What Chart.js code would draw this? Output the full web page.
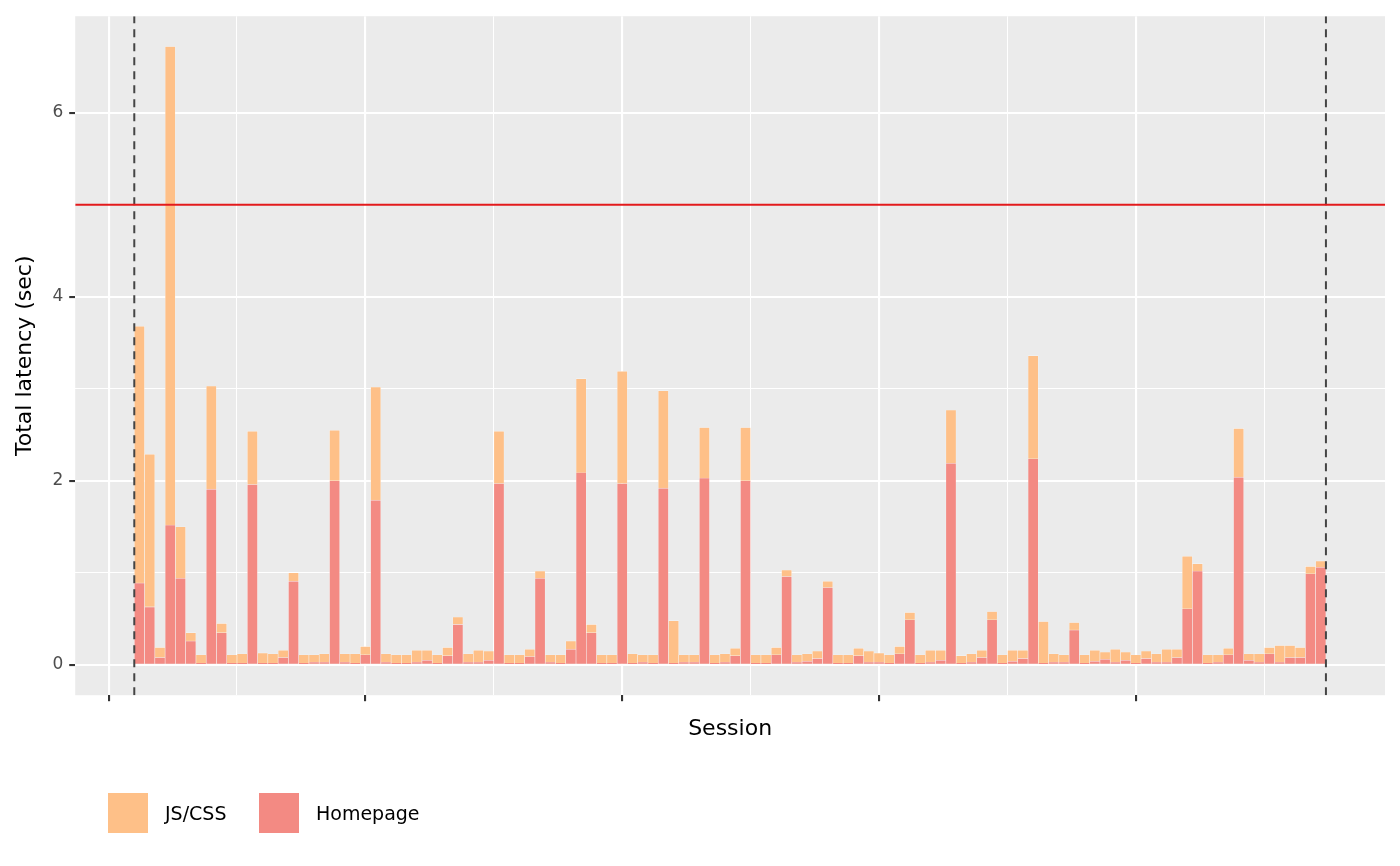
<!DOCTYPE html>
<html><head><meta charset="utf-8">
<script src="https://cdn.jsdelivr.net/npm/chart.js@4"></script>
<style>html,body{margin:0;padding:0;background:#fff}#w{width:1400px;height:866px;position:relative}
.lg{position:absolute;top:792px;display:flex;align-items:center;font-family:'DejaVu Sans';font-size:19px;color:#000}
.sw{width:42px;height:42px;border:1px solid #fff;margin-right:16px;box-sizing:border-box}</style>
</head><body><div id="w"><canvas id="c"></canvas>
<div class="lg" style="left:107px"><div class="sw" style="background:#FEC088"></div>JS/CSS</div>
<div class="lg" style="left:258px"><div class="sw" style="background:#F38A83"></div>Homepage</div>
</div>
<script>
const homepage = [0.89,0.63,0.08,1.52,0.94,0.26,0.02,1.91,0.35,0.02,0.02,1.96,0.02,0.02,0.08,0.91,0.02,0.03,0.03,
2.0,0.03,0.02,0.11,1.79,0.03,0.02,0.02,0.03,0.05,0.02,0.10,0.44,0.03,0.03,0.05,1.97,0.02,0.02,
0.09,0.94,0.03,0.02,0.17,2.09,0.35,0.02,0.02,1.97,0.02,0.03,0.02,1.92,0.02,0.03,0.03,2.03,0.02,
0.03,0.10,2.0,0.02,0.02,0.11,0.96,0.03,0.04,0.07,0.84,0.02,0.02,0.10,0.03,0.03,0.02,0.12,0.49,
0.02,0.03,0.05,2.19,0.02,0.03,0.08,0.49,0.02,0.04,0.07,2.24,0.02,0.03,0.03,0.38,0.02,0.04,0.06,
0.03,0.05,0.02,0.07,0.03,0.03,0.08,0.61,1.02,0.02,0.03,0.11,2.04,0.05,0.03,0.12,0.03,0.08,0.08,0.99,1.06];
const totals = [3.68,2.29,0.19,6.72,1.50,0.35,0.11,3.03,0.45,0.11,0.12,2.54,0.13,0.12,0.16,1.0,0.11,0.11,0.12,
2.55,0.12,0.12,0.2,3.02,0.12,0.11,0.11,0.16,0.16,0.11,0.19,0.52,0.12,0.16,0.15,2.54,0.11,0.11,
0.17,1.02,0.11,0.11,0.26,3.11,0.44,0.11,0.11,3.19,0.12,0.11,0.11,2.98,0.48,0.11,0.11,2.58,0.11,
0.12,0.18,2.58,0.11,0.11,0.19,1.03,0.11,0.12,0.15,0.91,0.11,0.11,0.18,0.15,0.13,0.11,0.2,0.57,
0.11,0.16,0.16,2.77,0.10,0.12,0.16,0.58,0.11,0.16,0.16,3.36,0.47,0.12,0.11,0.46,0.11,0.16,0.14,
0.17,0.14,0.11,0.15,0.12,0.17,0.17,1.18,1.10,0.11,0.11,0.18,2.57,0.12,0.12,0.19,0.21,0.21,0.19,1.07,1.13];
const jscss = totals.map((t,i)=>+(t-homepage[i]).toFixed(2));
const sessions = homepage.map((_,i)=>i+1);
const threshold = 5;
const xMajor = [-2,23,48,73,98];
const xMinor = [10.5,35.5,60.5,85.5,110.5];
const yTicks = [0,1,2,3,4,5,6];
const xMin = -5.25, xMax = 122.25, yMin = -0.33, yMax = 7.05;

const bg = {id:'bg',beforeDraw(ch){const a=ch.chartArea,c=ch.ctx;c.save();c.fillStyle='#EBEBEB';c.fillRect(a.left,a.top,a.right-a.left,a.bottom-a.top);c.restore();}};

new Chart(document.getElementById('c'),{
  data:{datasets:[
    {type:'bar',label:'JS/CSS',data:sessions.map((s,i)=>({x:s,y:[homepage[i],homepage[i]+jscss[i]]})),backgroundColor:'#FEC088',borderColor:'rgba(255,255,255,0.45)',borderWidth:0.6,grouped:false,barPercentage:1,categoryPercentage:1,order:2},
    {type:'bar',label:'Homepage',data:sessions.map((s,i)=>({x:s,y:homepage[i]})),backgroundColor:'#F38A83',borderColor:'rgba(255,255,255,0.45)',borderWidth:0.6,grouped:false,barPercentage:1,categoryPercentage:1,order:1},
    {type:'line',label:'thr',data:[{x:xMin,y:threshold},{x:xMax,y:threshold}],borderColor:'#E31A1C',borderWidth:2,pointRadius:0,order:0},
    {type:'line',label:'v1',data:[{x:0.5,y:yMin},{x:0.5,y:yMax}],borderColor:'#444',borderWidth:2,borderDash:[8,6],pointRadius:0,order:0},
    {type:'line',label:'v2',data:[{x:116.5,y:yMin},{x:116.5,y:yMax}],borderColor:'#444',borderWidth:2,borderDash:[8,6],pointRadius:0,order:0}
  ]},
  options:{
    responsive:true,maintainAspectRatio:false,animation:false,
    layout:{padding:{left:8,right:15,top:15,bottom:118}},
    plugins:{tooltip:{enabled:false},legend:{display:false}},
    scales:{
      x:{type:'linear',min:xMin,max:xMax,offset:false,
        afterBuildTicks(s){s.ticks=[...xMajor,...xMinor].sort((a,b)=>a-b).map(v=>({value:v}));},
        ticks:{callback:()=>'',padding:0},
        grid:{offset:false,color:'#fff',lineWidth:c=>xMajor.includes(c.tick&&c.tick.value)?2.1:1.05,
          tickColor:c=>xMajor.includes(c.tick&&c.tick.value)?'#333':'rgba(0,0,0,0)',tickLength:6,drawTicks:true},
        border:{display:false},
        title:{display:true,text:'Session',color:'#000',font:{family:'DejaVu Sans',size:22},padding:{top:0,bottom:6}}},
      y:{type:'linear',min:yMin,max:yMax,
        afterBuildTicks(s){s.ticks=yTicks.map(v=>({value:v}));},
        ticks:{callback:v=>v%2===0?String(v):'',color:'#4D4D4D',font:{family:'DejaVu Sans',size:17},padding:6},
        grid:{color:'#fff',lineWidth:c=>(c.tick&&c.tick.value%2===0)?2.1:1.05,
          tickColor:c=>(c.tick&&c.tick.value%2===0)?'#333':'rgba(0,0,0,0)',tickLength:6},
        border:{display:false},
        title:{display:true,text:'Total latency (sec)',color:'#000',font:{family:'DejaVu Sans',size:22},padding:{bottom:8}}}
    }
  },
  plugins:[bg]
});
</script></body></html>
